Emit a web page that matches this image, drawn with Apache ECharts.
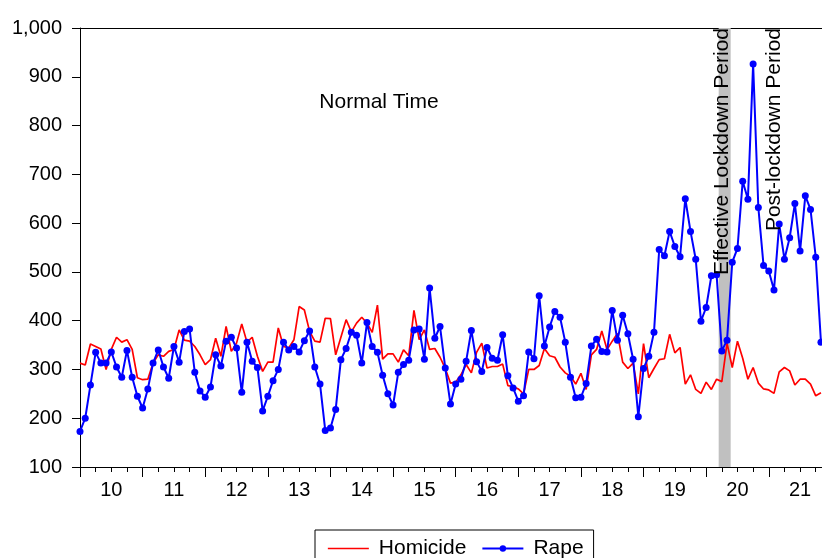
<!DOCTYPE html>
<html>
<head>
<meta charset="utf-8">
<script src="https://cdn.jsdelivr.net/npm/echarts@6/dist/echarts.min.js"></script>
<style>
html,body{margin:0;padding:0;background:#fff;}
#chart{width:822px;height:558px;}
</style>
</head>
<body>
<div id="chart"></div>
<script>
// Monthly series, Jan 2010 .. Nov 2021
const startYear = 10;
const homicide = [
313,309,352,347,342,300,341,366,356,361,341,283,
279,280,313,330,327,337,341,381,360,358,347,330,
310,320,364,327,388,337,354,393,356,366,327,296,
315,315,385,347,344,361,429,422,378,358,356,405,
404,330,366,402,377,395,407,395,376,432,321,332,
332,315,340,328,421,361,381,341,343,325,302,272,
274,289,310,293,335,354,303,306,306,311,267,265,
260,250,300,300,308,343,328,325,305,293,286,270,
292,259,330,341,379,341,358,374,315,302,313,250,
353,283,302,320,322,372,334,345,270,289,259,251,
274,259,280,275,354,304,358,323,280,304,272,260,
258,251,295,304,297,268,280,280,270,246,252
];
const rape = [
173,200,268,335,313,313,336,305,284,339,284,245,
221,260,313,340,305,282,347,315,378,383,294,256,
243,264,330,307,358,366,344,253,356,317,304,215,
245,277,300,356,340,347,336,359,379,305,270,175,
180,218,320,343,376,370,313,396,347,335,288,250,
227,294,310,319,381,383,321,467,364,388,303,229,
270,280,317,380,316,296,345,323,319,371,287,262,
235,246,336,322,451,348,387,419,407,356,284,242,
243,271,348,362,337,336,421,360,411,373,321,203,
302,327,376,546,533,583,552,531,650,583,526,399,
427,492,494,338,360,520,548,686,649,926,632,513,
502,463,598,526,570,640,543,656,628,530,356
];
const yTicks = [100,200,300,400,500,600,700,800,900,1000];
const seriesNames = ['Homicide','Rape'];
const lockdownBand = [122.4, 124.7]; // months since Jan 2010 (Apr-May 2020)
const annotations = ['Normal Time','Effective Lockdown Period','Post-lockdown Period'];

const nYears = 12;
const majorTicks = [], minorTicks = [], yearLabels = [];
for (let y = 0; y < nYears; y++) {
  majorTicks.push(y * 12);
  yearLabels.push(y * 12 + 6);
  for (let q = 0; q < 4; q++) minorTicks.push(y * 12 + q * 3);
}

const chart = echarts.init(document.getElementById('chart'), null, {renderer: 'canvas'});
const numFont = 'Arial, "Liberation Sans", sans-serif';
const fmtNum = v => String(v).replace(/\B(?=(\d{3})+(?!\d))/g, ',');

const option = {
  animation: false,
  backgroundColor: '#fff',
  grid: {left: 80, right: 0, top: 28, bottom: 91, containLabel: false},
  xAxis: [
    {
      type: 'value', min: 0, max: 142.2, position: 'bottom',
      axisLine: {show: true, lineStyle: {color: '#000', width: 1}},
      axisTick: {show: true, customValues: majorTicks, length: 10, lineStyle: {color: '#000'}},
      axisLabel: {show: true, customValues: yearLabels, margin: 13, fontSize: 20, color: '#000',
        fontFamily: numFont, formatter: v => String(startYear + Math.round((v - 6) / 12))},
      splitLine: {show: false}
    },
    {
      type: 'value', min: 0, max: 142.2, position: 'bottom',
      axisLine: {show: false},
      axisTick: {show: true, customValues: minorTicks, length: 5, lineStyle: {color: '#000'}},
      axisLabel: {show: false},
      splitLine: {show: false}
    },
    {
      type: 'value', min: 0, max: 142.2, position: 'top',
      axisLine: {show: true, lineStyle: {color: '#000', width: 1}},
      axisTick: {show: false}, axisLabel: {show: false}, splitLine: {show: false}
    }
  ],
  yAxis: {
    type: 'value', min: 100, max: 1000, interval: 100,
    axisLine: {show: true, lineStyle: {color: '#000', width: 1}},
    axisTick: {show: true, length: 8, lineStyle: {color: '#000'}},
    axisLabel: {margin: 18, fontSize: 20, color: '#000', fontFamily: numFont, formatter: v => fmtNum(v)},
    splitLine: {show: false}
  },
  legend: {
    data: [
      {name: seriesNames[0], itemStyle: {color: 'rgba(0,0,0,0)', borderColor: 'rgba(0,0,0,0)', borderWidth: 0},
        lineStyle: {color: '#ff0000', width: 1.7}},
      {name: seriesNames[1], lineStyle: {color: '#0000ff', width: 2}}
    ],
    left: 315, top: 530,
    orient: 'horizontal',
    borderColor: '#000', borderWidth: 1,
    padding: [8, 10, 12, 12],
    itemWidth: 41, itemHeight: 8, itemGap: 15,
    textStyle: {fontSize: 21, color: '#000', fontFamily: numFont, padding: [0, 0, 0, 5]}
  },
  series: [
    {
      name: 'band', type: 'line', data: [], z: 1, silent: true,
      markArea: {silent: true, itemStyle: {color: '#c0c0c0', opacity: 1},
        data: [[{xAxis: lockdownBand[0]}, {xAxis: lockdownBand[1]}]]}
    },
    {
      name: seriesNames[0], type: 'line', z: 3,
      data: homicide.map((v, i) => [i, v]),
      symbol: 'none', showSymbol: false,
      lineStyle: {color: '#ff0000', width: 1.7},
      itemStyle: {color: '#ff0000'}
    },
    {
      name: seriesNames[1], type: 'line', z: 4,
      data: rape.map((v, i) => [i, v]),
      symbol: 'circle', symbolSize: 7, showSymbol: true,
      lineStyle: {color: '#0000ff', width: 2},
      itemStyle: {color: '#0000ff'}
    }
  ],
  graphic: [
    {type: 'text', x: 379, y: 102, z: 10,
      style: {text: annotations[0], fontSize: 21, fontFamily: numFont, fill: '#000', textAlign: 'center', textVerticalAlign: 'middle'}},
    {type: 'text', x: 722, y: 28, rotation: Math.PI / 2, z: 10,
      style: {text: annotations[1], fontSize: 21, fontFamily: numFont, fill: '#000', textAlign: 'right', textVerticalAlign: 'middle'}},
    {type: 'text', x: 774, y: 28, rotation: Math.PI / 2, z: 10,
      style: {text: annotations[2], fontSize: 21, fontFamily: numFont, fill: '#000', textAlign: 'right', textVerticalAlign: 'middle'}}
  ]
};
chart.setOption(option);
</script>
</body>
</html>
